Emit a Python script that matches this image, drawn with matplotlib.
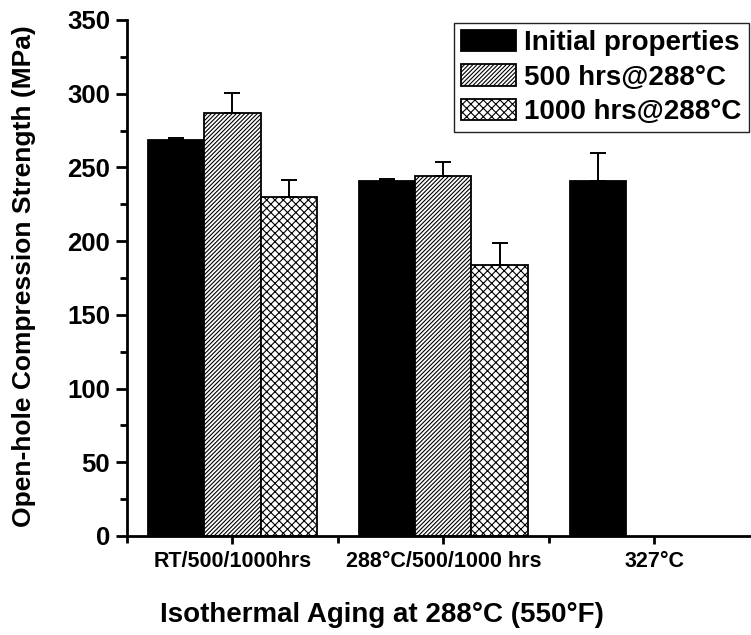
import numpy as np
import matplotlib.pyplot as plt
from matplotlib.ticker import MultipleLocator, FixedLocator

plt.rcParams['font.family'] = ['Liberation Sans', 'DejaVu Sans']
plt.rcParams['font.weight'] = 'bold'
plt.rcParams['hatch.linewidth'] = 0.8

# Données
groupes = ["RT/500/1000hrs", "288°C/500/1000 hrs", "327°C"]
series = ["Initial properties", "500 hrs@288°C", "1000 hrs@288°C"]
initial = [268.5, 240.5, 240.5]
initial_err = [1.5, 1.5, 19.5]
h500 = [287, 244]
h500_err = [13.5, 9.5]
h1000 = [230, 184]
h1000_err = [11.5, 15]

fig = plt.figure(figsize=(7.51, 6.35), dpi=100)
ax = fig.add_axes([0.169, 0.156, 0.831, 0.8126])

w = 0.267
x = np.arange(1, len(groupes) + 1)

def barres(pos, val, err, **kw):
    ax.bar(pos, val, w, edgecolor='black', linewidth=1.3, **kw)
    ax.errorbar(pos, val, yerr=[np.zeros(len(err)), err], fmt='none',
                ecolor='black', elinewidth=1.4, capsize=5.5, capthick=1.4)

barres(x - w, initial, initial_err, color='black', label=series[0])
barres(x[:2], h500, h500_err, color='white', hatch='////////', label=series[1])
barres(x[:2] + w, h1000, h1000_err, color='white', hatch='xxxx', label=series[2])

ax.set_xlim(0.5, 3.459)
ax.set_ylim(0, 350)
ax.set_xticks(x)
ax.set_xticklabels(groupes, fontsize=15.5, fontweight='bold')
ax.xaxis.set_minor_locator(FixedLocator([0.5, 1.5, 2.5]))
ax.yaxis.set_major_locator(MultipleLocator(50))
ax.yaxis.set_minor_locator(MultipleLocator(25))
ax.tick_params(axis='y', which='major', labelsize=18.5, length=8, width=2, pad=4)
ax.tick_params(axis='y', which='minor', length=5, width=2)
ax.tick_params(axis='x', which='major', length=6, width=2, pad=5)
ax.tick_params(axis='x', which='minor', length=5, width=2)
for lab in ax.get_yticklabels():
    lab.set_fontweight('bold')

for s in ['top', 'right']:
    ax.spines[s].set_visible(False)
for s in ['left', 'bottom']:
    ax.spines[s].set_linewidth(2)

ax.set_ylabel("Open-hole Compression Strength (MPa)", fontsize=19, fontweight='bold')
ax.yaxis.set_label_coords(-0.145, 0.504)
ax.set_xlabel("Isothermal Aging at 288°C (550°F)", fontsize=20, fontweight='bold')
ax.xaxis.set_label_coords(0.408, -0.128)

leg = fig.legend(loc='upper right', bbox_to_anchor=(0.997, 0.964), fontsize=20,
                 handlelength=2.0, handleheight=0.8, handletextpad=0.3,
                 labelspacing=0.3, borderpad=0.25, borderaxespad=0,
                 fancybox=False, edgecolor='#222222', framealpha=1)
leg.get_frame().set_linewidth(1.0)

fig.savefig("out.png", dpi=100)
